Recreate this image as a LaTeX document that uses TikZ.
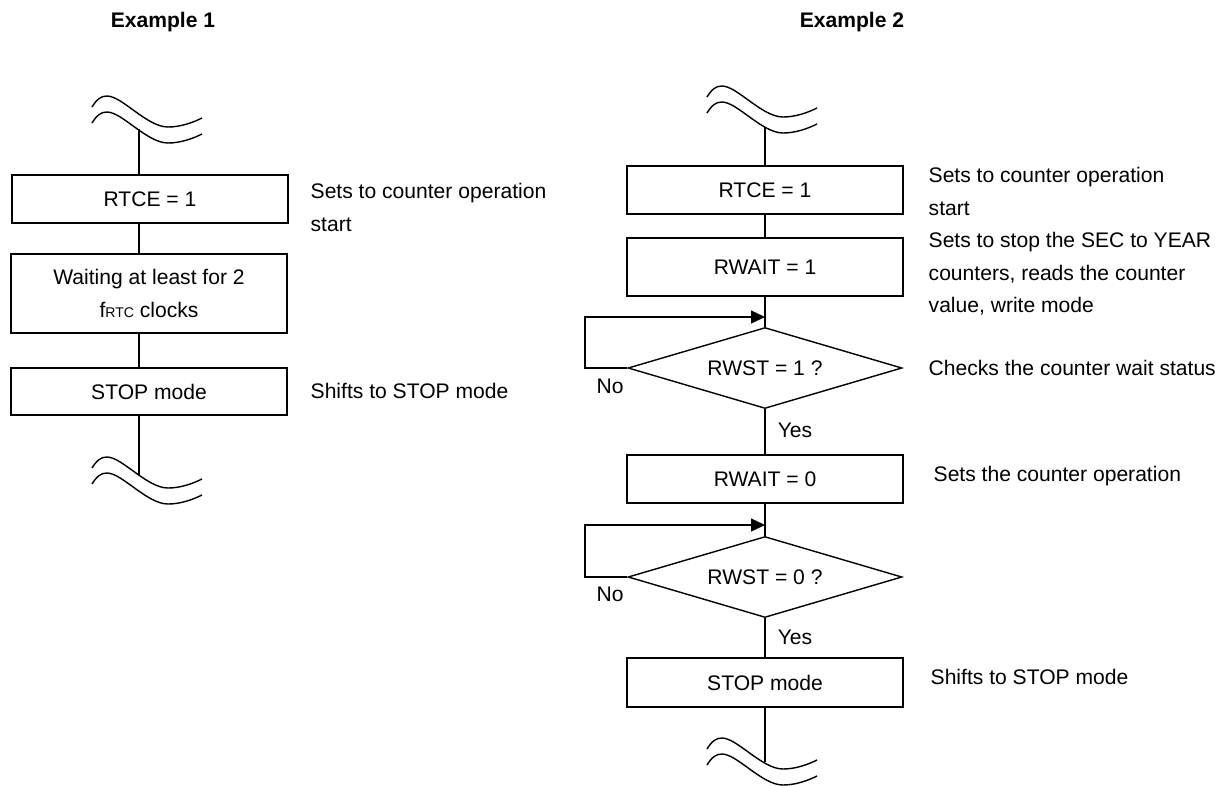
\documentclass[tikz,border=0pt]{standalone}
\usepackage{fontspec}
\setmainfont{Liberation Sans}
\usetikzlibrary{shapes.geometric,arrows.meta}

\tikzset{
  box/.style={draw, minimum width=5.52cm, align=center, inner sep=0pt},
  cond/.style={draw, diamond, aspect=3.4, minimum width=5.48cm, minimum height=1.62cm, inner sep=0pt},
  note/.style={anchor=north west, align=left, inner sep=0pt},
  lbl/.style={inner sep=0pt},
  brk/.pic={
    \foreach \dy in {0,16}
      \draw (0,\dy) .. controls (5,\dy-8) and (9,\dy-11) .. (15,\dy-11)
        .. controls (30,\dy-11) and (55,\dy+20) .. (76,\dy+20)
        .. controls (88,\dy+20) and (100,\dy+16) .. (110,\dy+11);
  }
}

\begin{document}
\begin{tikzpicture}[x=0.02cm, y=-0.02cm, line width=0.8pt,
    font=\fontsize{12}{18.5}\selectfont, >={Triangle[length=0.28cm,width=0.26cm]}]
  \useasboundingbox (0,0) rectangle (1224,785);

  \node[lbl, font=\bfseries\fontsize{12}{14}\selectfont] (h1) at (163,22) {Example 1};
  \node[lbl, font=\bfseries\fontsize{12}{14}\selectfont] (h2) at (852,22) {Example 2};

  % Example 1
  \pic at (92,107) {brk};
  \coordinate (t1) at (139,129);
  \node[box, minimum height=0.96cm] (a1) at (150,199) {RTCE = 1};
  \node[box, minimum height=1.58cm] (a2) at (149,293.5) {Waiting at least for 2\\f{\fontsize{8}{8}\selectfont RTC} clocks};
  \node[box, minimum height=0.94cm] (a3) at (149,391.5) {STOP mode};
  \pic at (92,468) {brk};
  \coordinate (e1) at (139,475);
  \draw (t1) -- (t1 |- a1.north);
  \draw (a1.south -| t1) -- (a2.north -| t1);
  \draw (a2.south -| t1) -- (a3.north -| t1);
  \draw (a3.south -| t1) -- (e1);
  \node[note] (n1) at (310,183) {Sets to counter operation\\start};
  \node[note] (n2) at (310,383) {Shifts to STOP mode};

  % Example 2
  \pic at (707,97) {brk};
  \coordinate (t2) at (765,127);
  \node[box, minimum height=0.96cm] (c1) at (765,190) {RTCE = 1};
  \node[box, minimum height=1.16cm] (c2) at (765,267) {RWAIT = 1};
  \node[cond] (d1) at (765,368) {RWST = 1 ?};
  \node[box, minimum height=0.96cm] (c3) at (765,479) {RWAIT = 0};
  \node[cond] (d2) at (765,577) {RWST = 0 ?};
  \node[box, minimum height=0.98cm] (c4) at (765,682.5) {STOP mode};
  \pic at (707,749) {brk};
  \coordinate (e2) at (765,762);
  \coordinate (m1) at (765,317);
  \coordinate (l1) at (585,317);
  \coordinate (m2) at (765,525);
  \coordinate (l2) at (585,525);

  \draw (t2) -- (c1.north);
  \draw (c1.south) -- (c2.north);
  \draw (c2.south) -- (d1.north);
  \draw (d1.south) -- (c3.north);
  \draw (c3.south) -- (d2.north);
  \draw (d2.south) -- (c4.north);
  \draw (c4.south) -- (e2);
  \draw[->] (d1.west) -| (l1) -- (m1);
  \draw[->] (d2.west) -| (l2) -- (m2);

  \node[lbl] (no1) at (610,386) {No};
  \node[lbl] (yes1) at (795,430) {Yes};
  \node[lbl] (no2) at (610,594) {No};
  \node[lbl] (yes2) at (795,637) {Yes};

  \node[note] (r1) at (928,167) {Sets to counter operation\\start};
  \node[note] (r2) at (928,232) {Sets to stop the SEC to YEAR\\counters, reads the counter\\value, write mode};
  \node[note] (r3) at (928,360) {Checks the counter wait status};
  \node[note] (r4) at (933,466) {Sets the counter operation};
  \node[note] (r5) at (930,669) {Shifts to STOP mode};
\end{tikzpicture}
\end{document}
